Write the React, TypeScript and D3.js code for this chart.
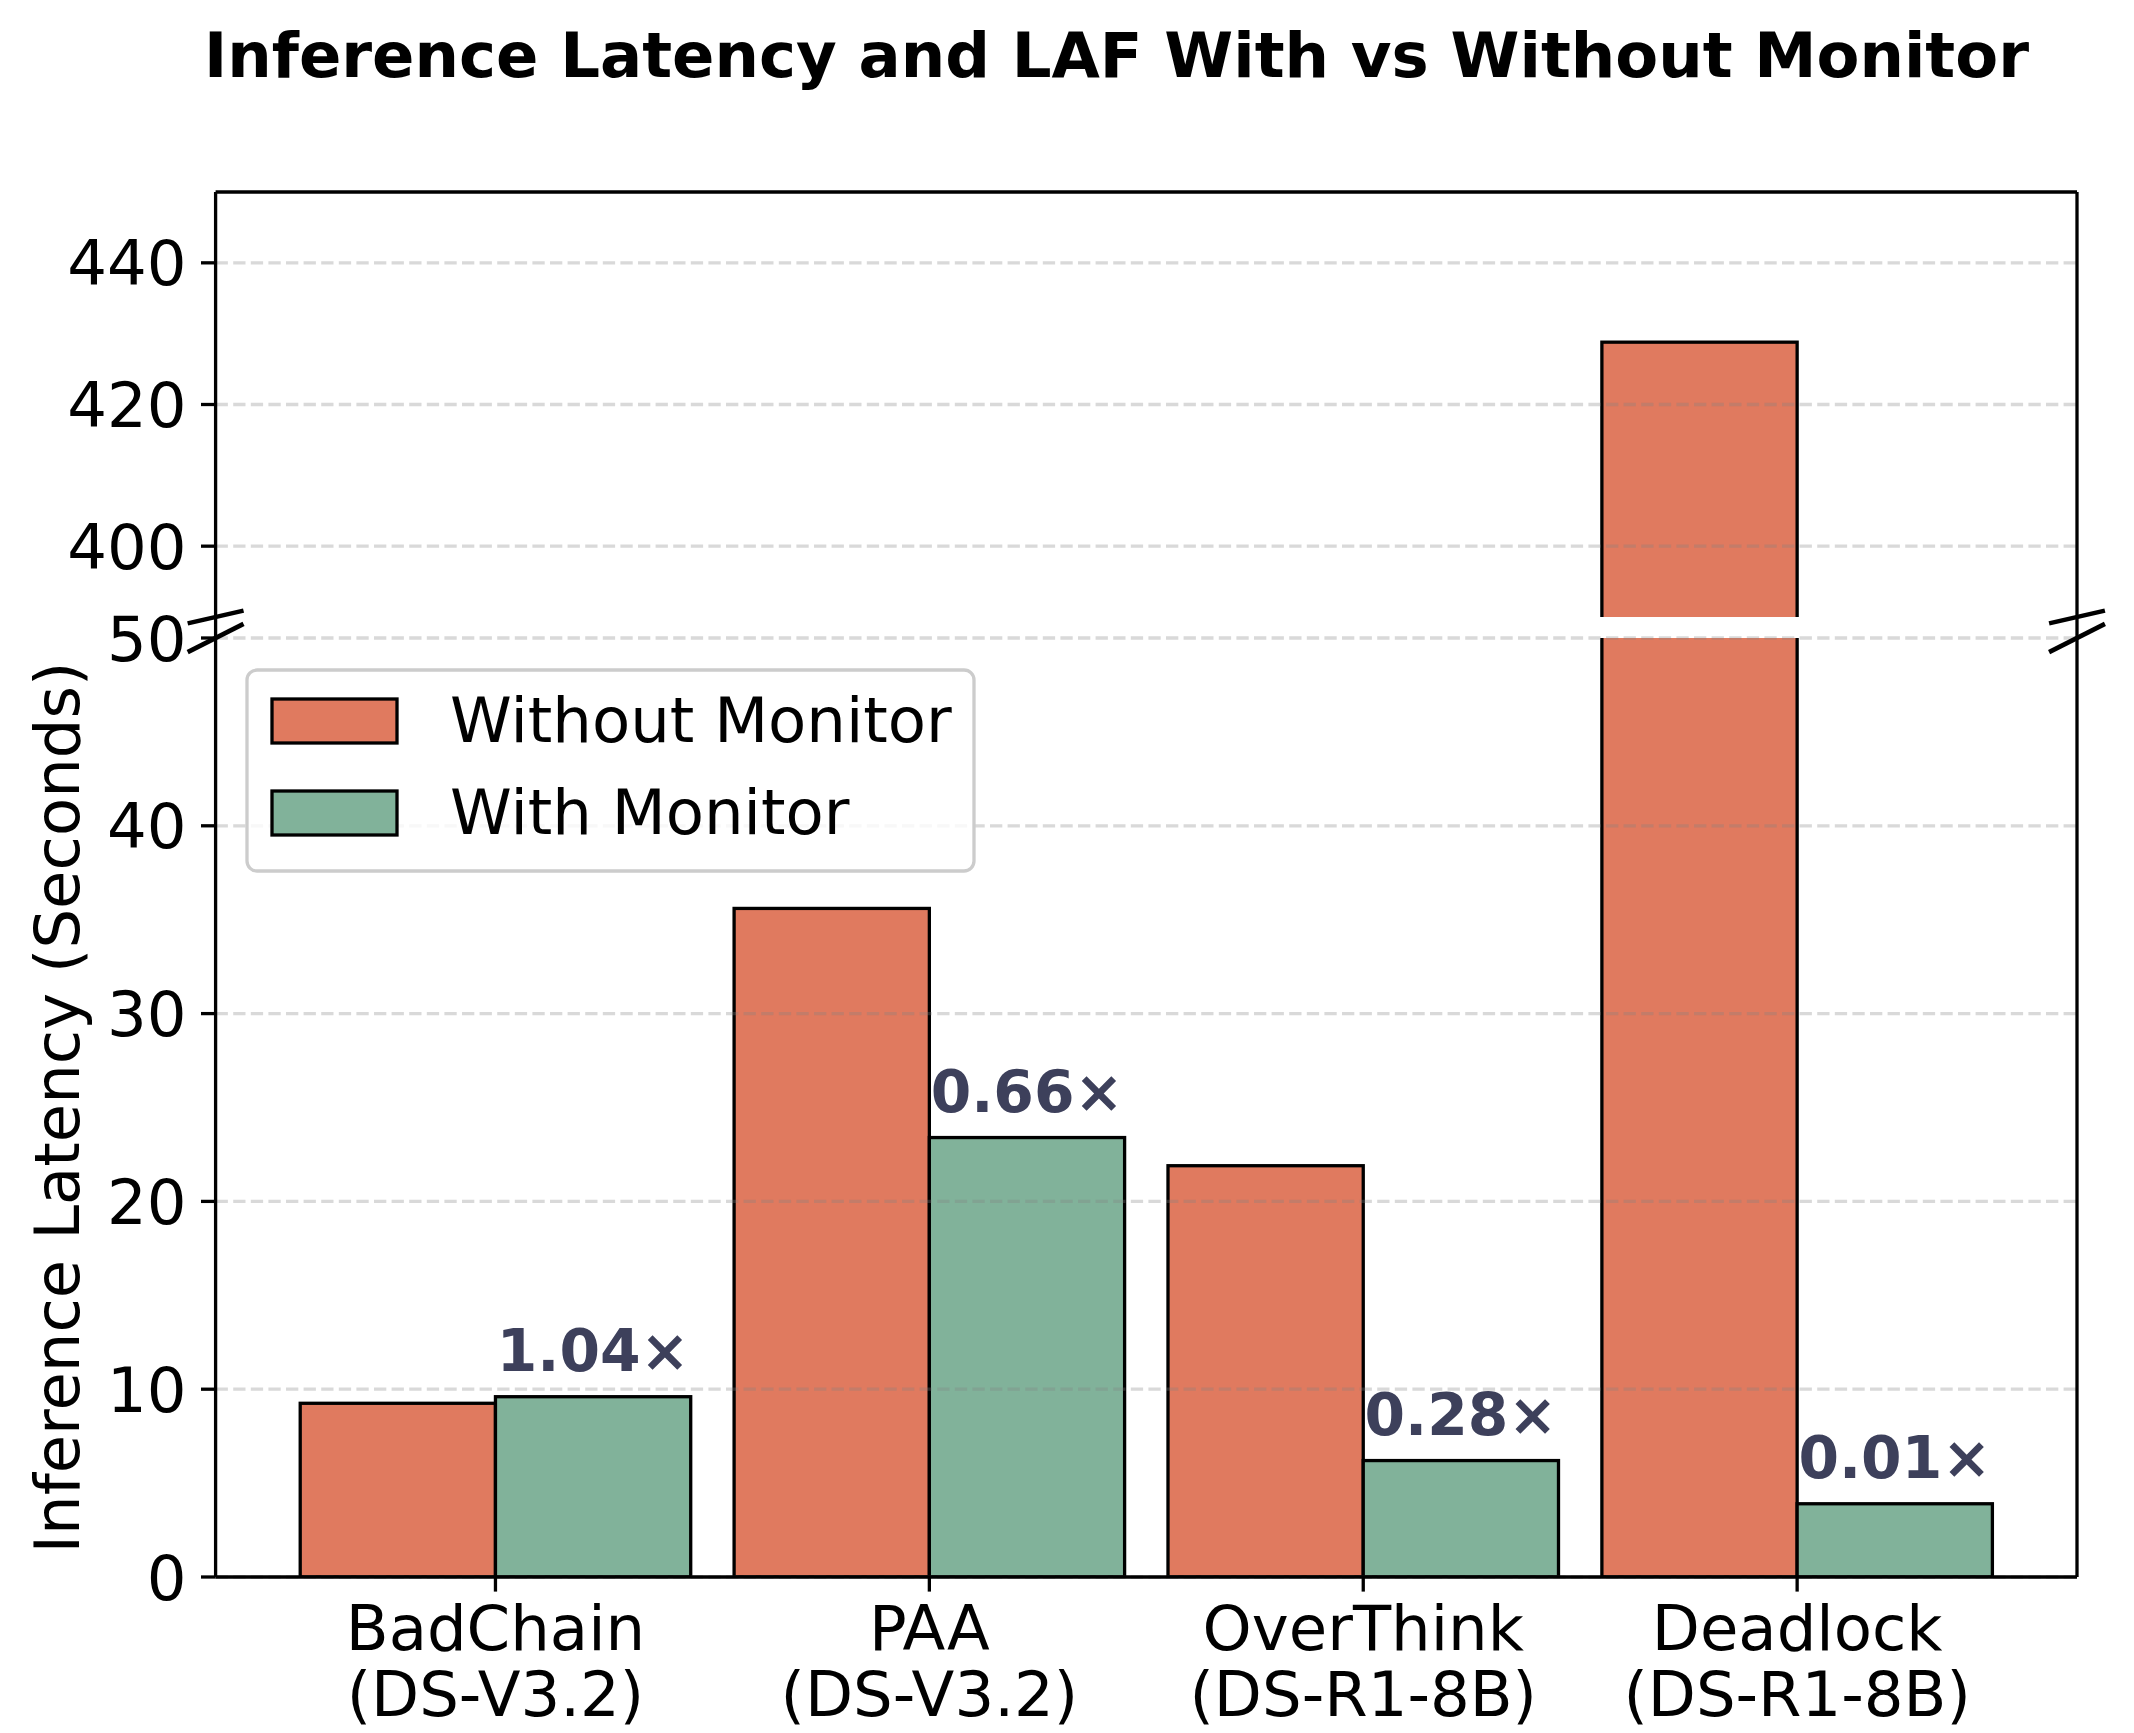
import React from "react";
import * as d3 from "d3";

// data
const categories = ["BadChain", "PAA", "OverThink", "Deadlock"];
const models = ["(DS-V3.2)", "(DS-V3.2)", "(DS-R1-8B)", "(DS-R1-8B)"];
const withoutMonitor = [9.25, 35.6, 21.9, 428.8];
const withMonitor = [9.6, 23.4, 6.2, 3.9];
const lafLabels = ["1.04×", "0.66×", "0.28×", "0.01×"];
const topTicks = [400, 420, 440];
const bottomTicks = [0, 10, 20, 30, 40, 50];
const seriesNames = ["Without Monitor", "With Monitor"];

const W = 2134;
const H = 1733;
const FONT = "DejaVu Sans";
const ORANGE = "#E07A5F";
const GREEN = "#81B29A";
const ANNOT = "#3D405B";

const left = 215.6;
const right = 2077;
const topY0 = 192;
const topY1 = 617;
const botY0 = 638;
const botY1 = 1577;
const barW = 0.45;

const App = () => {
   const x = d3.scaleLinear().domain([-0.645, 3.645]).range([left, right]);
   const yTop = d3.scaleLinear().domain([390, 450]).range([topY1, topY0]);
   const yBot = d3.scaleLinear().domain([0, 50]).range([botY1, botY0]);
   const bw = x(barW) - x(0);

   // draws both series of bars against one y scale; bars in the upper axes
   // run past the clip so the broken end has no edge line
   const bars = (y: d3.ScaleLinear<number, number>, clip: string, extend: number) => (
      <g clipPath={`url(#${clip})`}>
         {categories.map((c, i) =>
            [withoutMonitor[i], withMonitor[i]].map((v, k) => {
               const base = y(y.domain()[0]) + extend;
               return (
                  <rect
                     key={c + k}
                     x={x(i + (k === 0 ? -barW / 2 : barW / 2)) - bw / 2}
                     y={y(v)}
                     width={bw}
                     height={Math.max(0, base - y(v))}
                     fill={k === 0 ? ORANGE : GREEN}
                     stroke="black"
                     strokeWidth={3.3}
                  />
               );
            })
         )}
      </g>
   );

   const grid = (y: d3.ScaleLinear<number, number>, ticks: number[]) =>
      ticks.map((t) => (
         <line
            key={t}
            x1={left}
            x2={right}
            y1={y(t)}
            y2={y(t)}
            stroke="#808080"
            strokeOpacity={0.3}
            strokeWidth={3.3}
            strokeDasharray="12.3 5.3"
         />
      ));

   const yTicks = (y: d3.ScaleLinear<number, number>, ticks: number[]) =>
      ticks.map((t) => (
         <g key={t}>
            <line x1={left - 14.6} x2={left} y1={y(t)} y2={y(t)} stroke="black" strokeWidth={3.3} />
            <text
               x={left - 29}
               y={y(t)}
               dy="0.36em"
               textAnchor="end"
               fontSize={62.5}
               fontFamily={FONT}
            >
               {t}
            </text>
         </g>
      ));

   // break marks, d = 0.015 in axes coords
   const dx = 0.015 * (right - left);
   const dTop = 0.015 * (topY1 - topY0);
   const dBot = 0.015 * (botY1 - botY0);
   const breaks = [left, right].flatMap((px) => [
      [px - dx, topY1 + dTop, px + dx, topY1 - dTop],
      [px - dx, botY0 + dBot, px + dx, botY0 - dBot],
   ]);

   return (
      <svg
         width={W}
         height={H}
         style={{ position: "absolute", left: 0, top: 0, background: "white" }}
         fontFamily={FONT}
      >
         <defs>
            <clipPath id="clipTop">
               <rect x={left} y={topY0} width={right - left} height={topY1 - topY0} />
            </clipPath>
            <clipPath id="clipBot">
               <rect x={left} y={botY0} width={right - left} height={botY1 - botY0} />
            </clipPath>
         </defs>
         <rect width={W} height={H} fill="white" />

         <text x={1116.5} y={76.7} textAnchor="middle" fontSize={62.5} fontWeight="bold">
            Inference Latency and LAF With vs Without Monitor
         </text>

         {bars(yTop, "clipTop", 10)}
         {bars(yBot, "clipBot", 0)}
         {grid(yTop, topTicks)}
         {grid(yBot, bottomTicks)}

         {/* spines */}
         <line x1={left} x2={right} y1={topY0} y2={topY0} stroke="black" strokeWidth={3.3} />
         <line x1={left} x2={right} y1={botY1} y2={botY1} stroke="black" strokeWidth={3.3} />
         <line x1={left} x2={left} y1={topY0} y2={botY1} stroke="black" strokeWidth={3.3} />
         <line x1={right} x2={right} y1={topY0} y2={botY1} stroke="black" strokeWidth={3.3} />

         {breaks.map((b, i) => (
            <line key={i} x1={b[0]} y1={b[1]} x2={b[2]} y2={b[3]} stroke="black" strokeWidth={4.6} />
         ))}

         {yTicks(yTop, topTicks)}
         {yTicks(yBot, bottomTicks)}

         {/* x ticks */}
         {categories.map((c, i) => (
            <g key={c}>
               <line x1={x(i)} x2={x(i)} y1={botY1} y2={botY1 + 14.6} stroke="black" strokeWidth={3.3} />
               <text x={x(i)} y={1650} textAnchor="middle" fontSize={62.5}>
                  {c}
               </text>
               <text x={x(i)} y={1716} textAnchor="middle" fontSize={62.5}>
                  {models[i]}
               </text>
            </g>
         ))}

         {/* LAF annotations */}
         {lafLabels.map((l, i) => (
            <text
               key={l}
               x={x(i + barW / 2)}
               y={yBot(withMonitor[i]) - 26}
               textAnchor="middle"
               fontSize={58.3}
               fontWeight="bold"
               fill={ANNOT}
            >
               {l}
            </text>
         ))}

         <text
            transform={`translate(79, ${(botY0 + botY1) / 2}) rotate(-90)`}
            textAnchor="middle"
            fontSize={62.5}
         >
            Inference Latency (Seconds)
         </text>

         {/* legend */}
         <rect
            x={247}
            y={670}
            width={727}
            height={201}
            rx={10}
            fill="white"
            fillOpacity={0.8}
            stroke="#cccccc"
            strokeWidth={3.3}
         />
         {seriesNames.map((s, i) => (
            <g key={s}>
               <rect
                  x={272}
                  y={699 + i * 92}
                  width={125}
                  height={44}
                  fill={i === 0 ? ORANGE : GREEN}
                  stroke="black"
                  strokeWidth={3.3}
               />
               <text x={450} y={742 + i * 92} fontSize={62.5}>
                  {s}
               </text>
            </g>
         ))}
      </svg>
   );
};

export default App;
